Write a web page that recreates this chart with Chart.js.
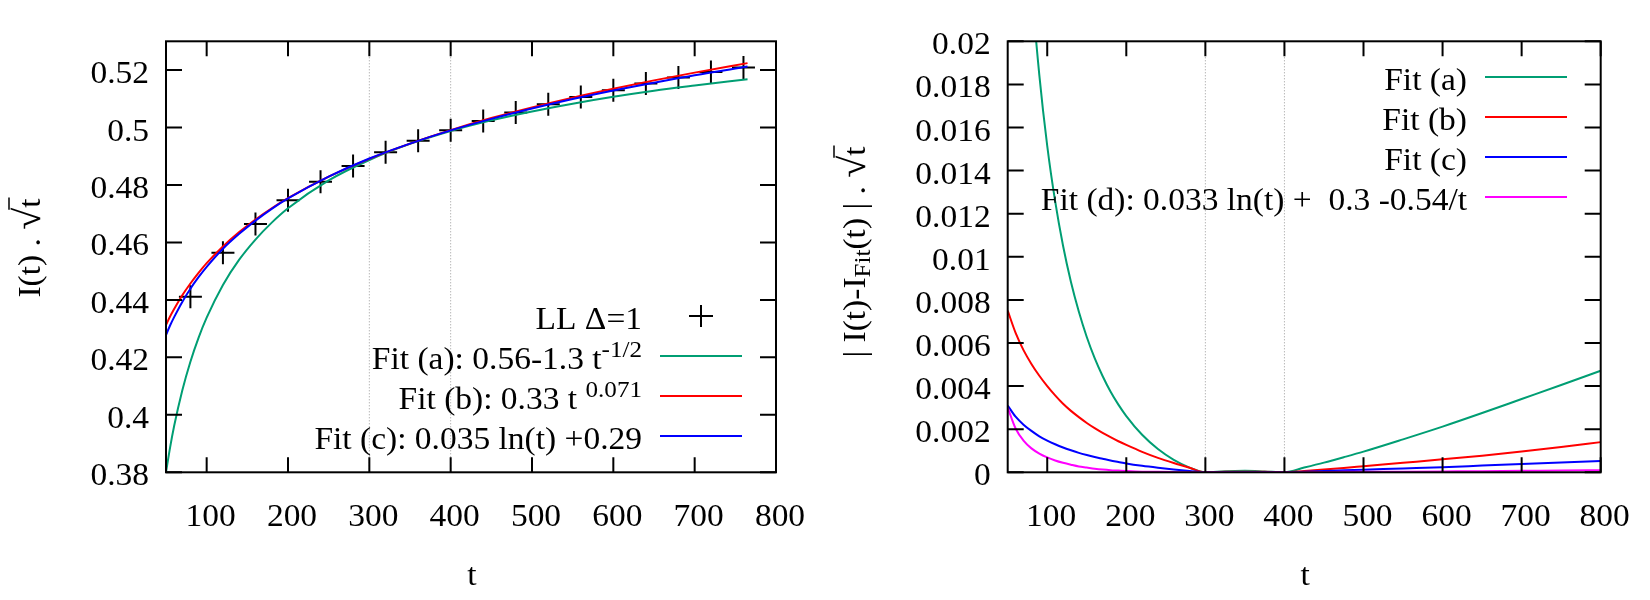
<!DOCTYPE html>
<html>
<head>
<meta charset="utf-8">
<script src="https://cdn.jsdelivr.net/npm/chart.js@4.4.1/dist/chart.umd.min.js"></script>
<style>
html, body { margin: 0; padding: 0; background: #fff; }
#wrap { position: relative; width: 1650px; height: 600px; }
canvas { position: absolute; top: 0; }
</style>
</head>
<body>
<div id="wrap">
  <canvas id="left" width="825" height="600" style="left:0"></canvas>
  <canvas id="right" width="825" height="600" style="left:825px"></canvas>
</div>
<script>
// LL Delta=1 data points (left panel)
const tData = [80, 120, 160, 200, 240, 280, 320, 360, 400, 440, 480, 520, 560, 600, 640, 680, 720, 760];
const llData = [0.4411, 0.4564, 0.4664, 0.4747, 0.4811, 0.4866, 0.4914, 0.4954, 0.4990, 0.5023,
                0.5052, 0.5081, 0.5106, 0.5130, 0.5153, 0.5174, 0.5193, 0.5209];

// fit curves
const tFit = [50, 55, 60, 70, 80, 90, 100, 120, 140, 160, 180, 200, 250, 300, 350, 400, 450, 500, 550, 600, 650, 700, 765];
const fitA = [0.3800, 0.3886, 0.3961, 0.4085, 0.4185, 0.4268, 0.4338, 0.4452, 0.4540, 0.4610, 0.4669, 0.4719,
              0.4816, 0.4887, 0.4943, 0.4988, 0.5025, 0.5056, 0.5083, 0.5107, 0.5128, 0.5146, 0.5168];
const fitB = [0.4313, 0.4342, 0.4368, 0.4416, 0.4457, 0.4494, 0.4528, 0.4586, 0.4636, 0.4680, 0.4719, 0.4754,
              0.4829, 0.4891, 0.4944, 0.4991, 0.5033, 0.5070, 0.5104, 0.5135, 0.5164, 0.5191, 0.5224];
const fitC = [0.4278, 0.4311, 0.4340, 0.4393, 0.4439, 0.4479, 0.4515, 0.4578, 0.4630, 0.4676, 0.4717, 0.4753,
              0.4829, 0.4892, 0.4944, 0.4990, 0.5030, 0.5066, 0.5099, 0.5129, 0.5156, 0.5182, 0.5212];

// residuals
const tRes = [50, 60, 70, 80, 90, 100, 110, 120, 130, 140, 150, 160, 170, 180, 190, 200, 220, 240, 260, 280,
              300, 325, 350, 375, 400, 425, 450, 475, 500, 550, 600, 650, 700, 750, 800];
const resA = [0.0485, 0.03655, 0.02847, 0.02271, 0.01843, 0.01515, 0.01258, 0.01051, 0.00883, 0.00745, 0.00628,
              0.0053, 0.00447, 0.00375, 0.00314, 0.00261, 0.00174, 0.00108, 0.00058, 0.00022, 0.0, 0.00005,
              0.00007, 0.00004, 0.0, 0.00022, 0.00045, 0.0007, 0.00096, 0.00153, 0.00212, 0.00275, 0.0034,
              0.00405, 0.00471];
const resB = [0.0075, 0.00647, 0.00567, 0.00503, 0.00448, 0.0040, 0.00357, 0.00318, 0.00285, 0.00256, 0.00229,
              0.00205, 0.00183, 0.00163, 0.00144, 0.00127, 0.00095, 0.00067, 0.00043, 0.00021, 0.0, 0.00002,
              0.00003, 0.00002, 0.0, 0.00006, 0.00013, 0.0002, 0.00028, 0.00044, 0.0006, 0.00077, 0.00096,
              0.00117, 0.0014];
const resC = [0.0031, 0.00258, 0.00221, 0.00192, 0.00167, 0.00147, 0.0013, 0.00115, 0.00102, 0.0009, 0.0008,
              0.00071, 0.00063, 0.00055, 0.00048, 0.00041, 0.0003, 0.00021, 0.00013, 0.00006, 0.0, 0.00001,
              0.00001, 0.00001, 0.0, 0.00003, 0.00006, 0.00009, 0.00012, 0.00018, 0.00024, 0.00031, 0.00038,
              0.00045, 0.00052];
const resD = [0.0030, 0.00203, 0.00147, 0.00111, 0.00087, 0.00069, 0.00055, 0.00044, 0.00035, 0.00027, 0.00022,
              0.00017, 0.00013, 0.0001, 0.00008, 0.00006, 0.00003, 0.00002, 0.00001, 0.0, 0.0, 0.0, 0.0, 0.0,
              0.0, 0.00001, 0.00001, 0.00002, 0.00002, 0.00003, 0.00004, 0.00005, 0.00007, 0.00008, 0.0001];

const fitRange = [300, 400];
const xTicks = [100, 200, 300, 400, 500, 600, 700, 800];
const yTicksLeft = [0.38, 0.4, 0.42, 0.44, 0.46, 0.48, 0.5, 0.52];
const yTicksRight = [0, 0.002, 0.004, 0.006, 0.008, 0.01, 0.012, 0.014, 0.016, 0.018, 0.02];

const GREEN = '#009e73', RED = '#ff0000', BLUE = '#0000ff', MAGENTA = '#ff00ff';
const FONT = '"Liberation Serif", "Times New Roman", serif';
const FS = 31;
const SX = 1.08; // glyphs in the reference are a bit wide

function pts(xs, ys) {
    return xs.map((x, i) => ({ x: x, y: ys[i] }));
}

// draw text pieces (with super/subscripts) in a row
function drawRich(ctx, segs, x, y, align, size) {
    let total = 0;
    const parts = segs.map(s => {
        const fs = (s.sup || s.sub) ? size * 0.75 : size * (s.k || 1);
        ctx.font = fs + 'px ' + FONT;
        const w = ctx.measureText(s.t).width * SX;
        total += w;
        return { s: s, fs: fs, w: w };
    });
    let cx = align === 'right' ? x - total : align === 'center' ? x - total / 2 : x;
    parts.forEach(p => {
        const dy = p.s.sup ? -0.4 * size : p.s.sub ? 0.17 * size : 0;
        ctx.save();
        ctx.font = p.fs + 'px ' + FONT;
        ctx.fillStyle = '#000';
        ctx.textAlign = 'left';
        ctx.textBaseline = 'alphabetic';
        ctx.translate(cx, y + dy);
        ctx.scale(SX, 1);
        ctx.fillText(p.s.t, 0, 0);
        ctx.restore();
        if (p.s.over) {
            ctx.save();
            ctx.strokeStyle = '#000';
            ctx.lineWidth = 1.5;
            ctx.beginPath();
            ctx.moveTo(cx - 2, y - 1.0 * size);
            ctx.lineTo(cx + p.w + 1, y - 1.0 * size);
            ctx.stroke();
            ctx.restore();
        }
        cx += p.w;
    });
}

// frame, inward ticks, labels, titles and key, gnuplot style
function gnuplotLook(cfg) {
    return {
        id: 'gnuplotLook',
        afterDraw(chart) {
            const ctx = chart.ctx;
            const a = chart.chartArea;
            const x = chart.scales.x, y = chart.scales.y;
            ctx.save();
            ctx.strokeStyle = '#000';
            ctx.lineWidth = 2;
            ctx.strokeRect(a.left, a.top, a.right - a.left, a.bottom - a.top);
            ctx.beginPath();
            x.ticks.forEach(t => {
                const px = x.getPixelForValue(t.value);
                ctx.moveTo(px, a.bottom); ctx.lineTo(px, a.bottom - 15);
                ctx.moveTo(px, a.top); ctx.lineTo(px, a.top + 15);
            });
            y.ticks.forEach(t => {
                const py = y.getPixelForValue(t.value);
                ctx.moveTo(a.left, py); ctx.lineTo(a.left + 16, py);
                ctx.moveTo(a.right, py); ctx.lineTo(a.right - 16, py);
            });
            ctx.stroke();

            // tick labels
            x.ticks.forEach(t => {
                drawRich(ctx, [{ t: String(t.value) }], x.getPixelForValue(t.value) + 4, 526, 'center', FS);
            });
            y.ticks.forEach(t => {
                drawRich(ctx, [{ t: String(t.value) }], a.left - 17, y.getPixelForValue(t.value) + 13, 'right', FS);
            });

            // axis titles
            drawRich(ctx, [{ t: 't' }], (a.left + a.right) / 2 + 1, 585, 'center', FS);
            ctx.save();
            ctx.translate(cfg.yTitleX, cfg.yTitleY);
            ctx.rotate(-Math.PI / 2);
            drawRich(ctx, cfg.yTitle, 0, 0, 'center', FS);
            ctx.restore();

            // key
            cfg.key.forEach(k => {
                drawRich(ctx, k.segs, 642, k.y + 13, 'right', FS);
                ctx.beginPath();
                if (k.cross) {
                    ctx.strokeStyle = '#000';
                    ctx.lineWidth = 2;
                    ctx.moveTo(689, k.y); ctx.lineTo(713, k.y);
                    ctx.moveTo(701, k.y - 11); ctx.lineTo(701, k.y + 11);
                } else {
                    ctx.strokeStyle = k.color;
                    ctx.lineWidth = 2;
                    ctx.moveTo(660, k.y); ctx.lineTo(742, k.y);
                }
                ctx.stroke();
            });
            ctx.restore();
        }
    };
}

function curve(data, color, order) {
    return {
        data: data, showLine: true, borderColor: color, borderWidth: 2,
        pointRadius: 0, cubicInterpolationMode: 'monotone', order: order
    };
}

function rangeLine(tv, ymin, ymax) {
    return {
        data: [{ x: tv, y: ymin }, { x: tv, y: ymax }], showLine: true,
        borderColor: '#999', borderWidth: 1, borderDash: [1, 2], pointRadius: 0, order: 10
    };
}

function makePanel(id, datasets, ymin, ymax, yTicks, yAxisWidth, rightPad, cfg) {
    return new Chart(document.getElementById(id), {
        type: 'scatter',
        data: { datasets: datasets },
        options: {
            responsive: false,
            animation: false,
            layout: { padding: { left: 0, top: 41.3, right: rightPad, bottom: 0 } },
            plugins: { legend: { display: false }, tooltip: { enabled: false } },
            scales: {
                x: {
                    type: 'linear', min: 50, max: 800,
                    afterBuildTicks: s => { s.ticks = xTicks.map(v => ({ value: v })); },
                    afterFit: s => { s.height = 127.7; },
                    ticks: { display: false },
                    grid: { display: false },
                    border: { display: false }
                },
                y: {
                    type: 'linear', min: ymin, max: ymax,
                    afterBuildTicks: s => { s.ticks = yTicks.map(v => ({ value: v })); },
                    afterFit: s => { s.width = yAxisWidth; },
                    ticks: { display: false },
                    grid: { display: false },
                    border: { display: false }
                }
            }
        },
        plugins: [gnuplotLook(cfg)]
    });
}

// left panel
makePanel('left', [
    curve(pts(tFit, fitC), BLUE, 1),
    curve(pts(tFit, fitB), RED, 2),
    curve(pts(tFit, fitA), GREEN, 3),
    {
        data: pts(tData, llData), showLine: false, pointStyle: 'cross', pointRadius: 11.5,
        pointBorderWidth: 2, pointBorderColor: '#000', borderColor: '#000', order: 4
    },
    rangeLine(fitRange[0], 0.38, 0.53),
    rangeLine(fitRange[1], 0.38, 0.53)
], 0.38, 0.53, yTicksLeft, 166, 49, {
    yTitleX: 40, yTitleY: 248,
    yTitle: [{ t: 'I(t) . ' }, { t: '√', k: 1.2 }, { t: 't', over: true }],
    key: [
        { y: 316, cross: true, segs: [{ t: 'LL Δ=1' }] },
        { y: 356, color: GREEN, segs: [{ t: 'Fit (a): 0.56-1.3 t' }, { t: '-1/2', sup: true }] },
        { y: 396, color: RED, segs: [{ t: 'Fit (b): 0.33 t ' }, { t: '0.071', sup: true }] },
        { y: 436, color: BLUE, segs: [{ t: 'Fit (c): 0.035 ln(t) +0.29' }] }
    ]
});

// right panel
makePanel('right', [
    curve(pts(tRes, resD), MAGENTA, 1),
    curve(pts(tRes, resC), BLUE, 2),
    curve(pts(tRes, resB), RED, 3),
    curve(pts(tRes, resA), GREEN, 4),
    rangeLine(fitRange[0], 0, 0.02),
    rangeLine(fitRange[1], 0, 0.02)
], 0, 0.02, yTicksRight, 182.7, 49.3, {
    yTitleX: 40, yTitleY: 252,
    yTitle: [{ t: '| I(t)-I' }, { t: 'Fit', sub: true }, { t: '(t) | . ' }, { t: '√', k: 1.2 }, { t: 't', over: true }],
    key: [
        { y: 77, color: GREEN, segs: [{ t: 'Fit (a)' }] },
        { y: 117, color: RED, segs: [{ t: 'Fit (b)' }] },
        { y: 157, color: BLUE, segs: [{ t: 'Fit (c)' }] },
        { y: 197, color: MAGENTA, segs: [{ t: 'Fit (d): 0.033 ln(t) +  0.3 -0.54/t' }] }
    ]
});
</script>
</body>
</html>
